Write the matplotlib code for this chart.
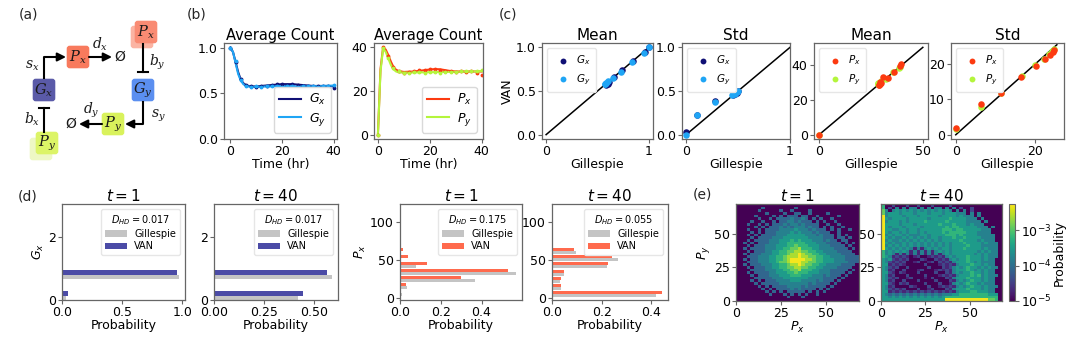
import numpy as np
import matplotlib
matplotlib.use('Agg')
import matplotlib.pyplot as plt
from matplotlib.colors import LogNorm
from matplotlib.patches import FancyBboxPatch

# ---------------- data ----------------
# (b) average counts
t_van = [0, 1, 2, 3, 4, 5, 6, 7, 8, 10, 12, 14, 16, 18, 20, 22, 24, 26, 28, 30, 32, 34, 36, 38, 40]
gx_van = [1.0, 0.95, 0.84, 0.73, 0.65, 0.61, 0.59, 0.58, 0.575, 0.575, 0.58, 0.585, 0.59, 0.595, 0.6, 0.6,
          0.6, 0.595, 0.59, 0.585, 0.58, 0.58, 0.58, 0.58, 0.575]
gy_van = [1.0, 0.95, 0.83, 0.71, 0.64, 0.6, 0.58, 0.575, 0.57, 0.57, 0.572, 0.575, 0.575, 0.578, 0.58, 0.58,
          0.578, 0.575, 0.575, 0.575, 0.578, 0.58, 0.58, 0.582, 0.585]
px_van = [0, 30, 40, 39, 36.5, 33.5, 31, 29.8, 29.2, 28.8, 28.9, 29, 29.3, 29.6, 29.9, 30.1, 30, 29.6, 29.2,
          29, 29, 29, 29, 29, 29]
py_van = [0, 29, 39.5, 38, 35, 32, 30, 29, 28.6, 28.5, 28.5, 28.6, 28.6, 28.6, 28.7, 28.7, 28.8, 28.8, 28.8,
          28.8, 28.9, 28.9, 29, 29, 29.2]
t_gil = [0, 2, 4, 6, 8, 10, 12, 14, 16, 18, 20, 22, 24, 26, 28, 30, 32, 34, 36, 38, 40]
gx_gil = [1.0, 0.84, 0.66, 0.59, 0.575, 0.57, 0.58, 0.585, 0.59, 0.6, 0.6, 0.59, 0.6, 0.59, 0.58, 0.585,
          0.58, 0.575, 0.58, 0.58, 0.56]
gy_gil = [1.0, 0.85, 0.65, 0.585, 0.57, 0.575, 0.57, 0.58, 0.575, 0.58, 0.57, 0.575, 0.58, 0.57, 0.575,
          0.58, 0.58, 0.57, 0.58, 0.585, 0.59]
px_gil = [0, 40, 36, 31, 29, 28.5, 28.8, 29, 29.5, 29.8, 30, 30.2, 29.6, 29, 29.2, 28.8, 29, 28.6, 29, 28.5, 27.5]
py_gil = [0, 39.5, 35, 30.5, 29, 28.5, 28.5, 28.6, 28.8, 28.5, 28.8, 28.6, 28.5, 28.7, 28.6, 28.8, 29, 29,
          29, 29.2, 29.6]

# (c) moments: Gillespie (x) vs VAN (y)
gx_mean_gil = [1.0, 0.96, 0.85, 0.74, 0.66, 0.61, 0.59, 0.58, 0.6, 0.6]
gx_mean_van = [1.0, 0.95, 0.84, 0.74, 0.66, 0.6, 0.58, 0.57, 0.59, 0.58]
gy_mean_gil = [1.0, 0.95, 0.84, 0.73, 0.65, 0.6, 0.58, 0.57, 0.57, 0.58]
gy_mean_van = [1.0, 0.94, 0.83, 0.72, 0.65, 0.61, 0.59, 0.58, 0.58, 0.59]
gx_std_gil = [0.0, 0.1, 0.28, 0.45, 0.47, 0.49, 0.5]
gx_std_van = [0.03, 0.23, 0.38, 0.45, 0.46, 0.48, 0.5]
gy_std_gil = [0.0, 0.1, 0.28, 0.44, 0.47, 0.49, 0.5]
gy_std_van = [0.0, 0.22, 0.37, 0.45, 0.47, 0.49, 0.5]
px_mean_gil = [0, 39.5, 39, 36, 33, 31, 29.5, 29, 28.8, 29.5, 30]
px_mean_van = [0, 40.5, 39.5, 36, 32.5, 33, 30, 28.5, 28.2, 29, 29.5]
py_mean_gil = [0, 39, 38.5, 35.5, 32, 30, 29, 28.5, 28.2, 28.5, 28.5]
py_mean_van = [0, 38.5, 38, 36, 32, 30.5, 29.5, 29, 29, 29.5, 29]
px_std_gil = [0, 6.4, 11.4, 16.5, 20.2, 22.4, 23.8, 24.5, 24.9]
px_std_van = [1.8, 8.7, 11.8, 16.3, 19.6, 21.4, 22.6, 23.5, 24.0]
py_std_gil = [0, 6.4, 11.3, 16.6, 20.0, 22.2, 23.6, 24.3, 24.8]
py_std_van = [1.6, 8.0, 11.7, 16.6, 19.8, 21.5, 22.8, 23.7, 24.2]
diag_max = [1.0, 1.0, 50.0, 25.5]

# (d) marginal histograms (bin lower edges, bin widths, probabilities)
gx_edges = [0.0, 0.667]
gx_binw = 0.333
gx_gil_t1 = [0.035, 0.975]
gx_van_t1 = [0.05, 0.955]
gx_gil_t40 = [0.42, 0.59]
gx_van_t40 = [0.447, 0.565]
px_edges_t1 = [3, 12.3, 21.6, 30.9, 40.2, 49.5, 58.8, 68.1]
px_edges_t40 = [1.5, 11, 20.5, 30, 39.5, 49, 58.5, 68]
px_binw = 9.3
px_gil_t1 = [0.01, 0.035, 0.37, 0.57, 0.08, 0.003, 0.0, 0.0]
px_van_t1 = [0.005, 0.03, 0.3, 0.53, 0.133, 0.04, 0.013, 0.004]
px_gil_t40 = [0.42, 0.036, 0.034, 0.048, 0.223, 0.265, 0.096, 0.0]
px_van_t40 = [0.445, 0.035, 0.035, 0.048, 0.226, 0.242, 0.087, 0.005]
dhd_gx = ['0.017', '0.017']
dhd_px = ['0.175', '0.055']

# (e) joint distributions, rows from top (Py=70-72) to bottom (Py=0-2),
# columns Px=0..68 in bins of 2; digit d -> log10 p = -5 + 0.3 d
heat_t1 = [
    "0000000000000000000000000000000000",
    "0000000300000000300000000000000000",
    "0000003000003003000030000000000000",
    "0000000030000300330030000300000000",
    "0000030000303033303300300000300000",
    "0000003003033334334303030030000000",
    "0000300300303344343330303003000000",
    "0003003030333434434333300300300000",
    "0000030303334343444343303030030000",
    "0003003033334444544434333030300300",
    "0000303033344445454443433300300000",
    "0003030333344455555444343330303000",
    "0000303333444555555544443330330300",
    "0003033334445556565554443433033000",
    "0030303334445566666555444333303030",
    "0003033344455566766655544433330300",
    "0030333344455667786665544443333030",
    "0003033344556677887766554444333300",
    "0030333444556678898776655444433330",
    "0003334445566788898877665544443333",
    "0030334445566789999887665554443333",
    "0003334445567789998877665554444333",
    "0030333444556678898776655444433330",
    "0003033344556677887766554444333300",
    "0000333344455667786665544433333030",
    "0003033334455566766655544433330300",
    "0000303334445556665554443433303000",
    "0000033333444555555544443333030000",
    "0000303033344445554444343330300000",
    "0000030333334444444434333303000000",
    "0000003030333344443433333030000000",
    "0000000303033334343333030300000000",
    "0000000030303033333030303000000000",
    "0000000003000303030300300000000000",
    "0000000000000030003000000000000000",
    "0000000000000000000000000000000000",
]
heat_t40 = [
    "6002000200200020000200000000000000",
    "6020404044040404404040200200000000",
    "7404545454545454545404040200000000",
    "7455545554555455545554440404000000",
    "9455554555455555455554544404000000",
    "9545555455555455555655554440400000",
    "9455545455556555556555554444040000",
    "9555545554555555655565554544400000",
    "9545554555545555556566555554440400",
    "9554455455455555566656655555444000",
    "9545545455454555565666665554444000",
    "9454554544455455556665655554444400",
    "9545445454545455455565565555444400",
    "9454454545454545455555655554544400",
    "9545445454545454545455565555454440",
    "9454545454545454545455556555444440",
    "9545454541414545455455565555454440",
    "6454545414141414545455555554545440",
    "6454141414141414145455555545454440",
    "6541212101200121214545556555454440",
    "5452121200021002121454556555454400",
    "5421212001200120212145556545444400",
    "5512121000002000121214555655454400",
    "5421200200000200021245456554545440",
    "5412002000120001212145556545454400",
    "5521021000200002002145455655454400",
    "5412000200002000121214555656454440",
    "5421200120001020002145556555454400",
    "5412002000200002000214545655454400",
    "5521021200002000200145456554544400",
    "5412000021000200121214545655454440",
    "5421212000200120002145556555454400",
    "5512121212121212121214555665554400",
    "5434343434343434344455666666665550",
    "5545454545454545456666666666666660",
    "5555555555555555559999999999997760",
]

# ---------------- style ----------------
plt.rcParams['font.family'] = ['DejaVu Sans']
plt.rcParams['mathtext.fontset'] = 'dejavusans'
TICK = 9
SP = '0.4'

W, H = 1080, 337
fig = plt.figure(figsize=(W / 100, H / 100), dpi=100)


def rect(x0, y0, x1, y1):
    return [x0 / W, 1 - y1 / H, (x1 - x0) / W, (y1 - y0) / H]


def style(ax):
    for s in ax.spines.values():
        s.set_color(SP)
        s.set_linewidth(0.9)
    ax.tick_params(labelsize=TICK, length=3, width=0.8, color=SP, pad=1.5)


def flab(x, y, s):
    fig.text(x / W, 1 - y / H, s, fontsize=10, ha='center', va='center', color='0.15')


C_GX, C_GY = '#101075', '#1fa5f5'
C_PX, C_PY = '#fc3a10', '#b4f53c'
C_GXBAR = '#4b4ba6'
C_PXBAR = '#ff6a4d'
C_GRAY = '#c4c4c4'

# ---------------- (a) diagram ----------------
ax0 = fig.add_axes([0, 0, 1, 1])
ax0.set_xlim(0, W)
ax0.set_ylim(H, 0)
ax0.axis('off')


def box(cx, cy, color, label, alpha=1.0):
    p = FancyBboxPatch((cx - 9.5, cy - 9.5), 19, 19, boxstyle='round,pad=1.8,rounding_size=3',
                       fc=color, ec='none', alpha=alpha)
    ax0.add_patch(p)
    if label:
        ax0.text(cx, cy, label, ha='center', va='center', fontsize=10.5, math_fontfamily='dejavuserif',
                 color='0.1')


def mtxt(x, y, s):
    ax0.text(x, y, s, ha='center', va='center', fontsize=10, math_fontfamily='dejavuserif', color='0.1')


arrow_kw = dict(arrowstyle='-|>,head_length=0.5,head_width=0.25', color='black', lw=1.5,
                shrinkA=0, shrinkB=0)
ax0.plot([44, 44, 60], [78, 57, 57], color='black', lw=1.5)
ax0.annotate('', xy=(66, 57), xytext=(56, 57), arrowprops=arrow_kw)
ax0.annotate('', xy=(112, 57), xytext=(89, 57), arrowprops=arrow_kw)
ax0.plot([143, 143], [44, 72], color='black', lw=1.5)
ax0.plot([138, 148], [72, 72], color='black', lw=1.5)
ax0.plot([143, 143, 132], [102, 124, 124], color='black', lw=1.5)
ax0.annotate('', xy=(125, 124), xytext=(134, 124), arrowprops=arrow_kw)
ax0.annotate('', xy=(79, 124), xytext=(102, 124), arrowprops=arrow_kw)
ax0.plot([44, 44], [132, 108], color='black', lw=1.5)
ax0.plot([39, 49], [108, 108], color='black', lw=1.5)

box(78, 57, '#f87a5d', r'$P_x$')
box(142, 37, '#fbb4a3', None)
box(146, 32, '#f98b73', r'$P_x$')
box(44, 90, '#5a5aa8', r'$G_x$')
box(143, 90, '#5b8ff0', r'$G_y$')
box(113, 124, '#d9f25c', r'$P_y$')
box(41, 149, '#eef8c4', None)
box(47, 143, '#dcf467', r'$P_y$')
mtxt(32, 66, r'$s_x$')
mtxt(100, 44, r'$d_x$')
mtxt(120, 57, 'Ø')
mtxt(157, 62, r'$b_y$')
mtxt(158, 116, r'$s_y$')
mtxt(91, 110, r'$d_y$')
mtxt(71, 124, 'Ø')
mtxt(32, 119, r'$b_x$')

flab(28, 15, '(a)')
flab(197, 15, '(b)')
flab(508, 15, '(c)')
flab(28, 196, '(d)')
flab(702, 195, '(e)')

# ---------------- (b) ----------------
axb1 = fig.add_axes(rect(224, 43, 337, 139))
axb1.plot(t_van, gx_van, color=C_GX, lw=1.5, label=r'$G_x$')
axb1.plot(t_van, gy_van, color=C_GY, lw=1.5, label=r'$G_y$')
axb1.plot(t_gil, gx_gil, '.', color=C_GX, ms=3.5)
axb1.plot(t_gil, gy_gil, '.', color=C_GY, ms=3.5)
axb1.set_xlim(-2.5, 41.3)
axb1.set_ylim(0, 1.05)
axb1.set_xticks([0, 20, 40])
axb1.set_yticks([0.0, 0.5, 1.0])
axb1.set_title('Average Count', fontsize=10.5, pad=2)
axb1.set_xlabel('Time (hr)', fontsize=TICK, labelpad=0)
axb1.legend(loc='lower right', fontsize=9, handlelength=1.8, borderpad=0.4, labelspacing=0.3,
            handletextpad=0.6, framealpha=1, edgecolor='0.85')
style(axb1)

axb2 = fig.add_axes(rect(374, 43, 483, 139))
axb2.plot(t_van, px_van, color=C_PX, lw=1.5, label=r'$P_x$')
axb2.plot(t_van, py_van, color=C_PY, lw=1.5, label=r'$P_y$')
axb2.plot(t_gil, px_gil, '.', color=C_PX, ms=3.5)
axb2.plot(t_gil, py_gil, '.', color=C_PY, ms=3.5)
axb2.set_xlim(-1.5, 40.5)
axb2.set_ylim(-1.8, 42)
axb2.set_xticks([0, 20, 40])
axb2.set_yticks([0, 20, 40])
axb2.set_title('Average Count', fontsize=10.5, pad=2)
axb2.set_xlabel('Time (hr)', fontsize=TICK, labelpad=0)
axb2.legend(loc='lower right', fontsize=9, handlelength=1.8, borderpad=0.4, labelspacing=0.3,
            handletextpad=0.6, framealpha=1, edgecolor='0.85')
style(axb2)

# ---------------- (c) ----------------
c_specs = [
    (rect(542, 43, 653, 139), 'Mean', gx_mean_gil, gx_mean_van, gy_mean_gil, gy_mean_van,
     C_GX, C_GY, r'$G_x$', r'$G_y$', (-0.04, 1.04), (-0.05, 1.05), [0, 1], [0.0, 0.5, 1.0], diag_max[0]),
    (rect(682, 43, 790, 139), 'Std', gx_std_gil, gx_std_van, gy_std_gil, gy_std_van,
     C_GX, C_GY, r'$G_x$', r'$G_y$', (-0.04, 1.0), (-0.05, 1.05), [0, 1], [0.0, 0.5, 1.0], diag_max[1]),
    (rect(814, 43, 928, 139), 'Mean', px_mean_gil, px_mean_van, py_mean_gil, py_mean_van,
     C_PX, C_PY, r'$P_x$', r'$P_y$', (-2.5, 52.5), (-2.5, 52.5), [0, 50], [0, 20, 40], diag_max[2]),
    (rect(951, 43, 1064, 139), 'Std', px_std_gil, px_std_van, py_std_gil, py_std_van,
     C_PX, C_PY, r'$P_x$', r'$P_y$', (-1.2, 27.3), (-1.2, 26), [0, 20], [0, 10, 20], diag_max[3]),
]
for i, (r, title, xg, xv, yg, yv, c1, c2, l1, l2, xl, yl, xt, yt, dm) in enumerate(c_specs):
    ax = fig.add_axes(r)
    ax.plot([0, dm], [0, dm], color='black', lw=1.1, zorder=1)
    if i < 2:
        ax.scatter(xg, xv, s=22, color=c1, label=l1, zorder=2, linewidths=0)
        ax.scatter(yg, yv, s=22, color=c2, label=l2, zorder=3, linewidths=0)
    else:
        ax.scatter(xg, xv, s=22, color=c1, label=l1, zorder=3, linewidths=0)
        ax.scatter(yg, yv, s=22, color=c2, label=l2, zorder=2, linewidths=0)
    ax.set_xlim(*xl)
    ax.set_ylim(*yl)
    ax.set_xticks(xt)
    ax.set_yticks(yt)
    ax.set_title(title, fontsize=11, pad=2)
    ax.set_xlabel('Gillespie', fontsize=TICK, labelpad=0)
    if i == 0:
        ax.set_ylabel('VAN', fontsize=TICK, labelpad=1)
    ax.legend(loc='upper left', fontsize=7.5, handletextpad=0.3, borderpad=0.5, labelspacing=0.5,
              markerscale=0.9, framealpha=1, edgecolor='0.9')
    style(ax)

# ---------------- (d) ----------------
d_specs = [
    (rect(62, 204, 185, 300), gx_edges, gx_binw, gx_gil_t1, gx_van_t1, C_GXBAR, dhd_gx[0], r'$t=1$',
     [0, 2], (0, 3.04), [0.0, 0.5, 1.0], ['0.0', '0.5', '1.0'], r'$G_x$'),
    (rect(214, 204, 338, 300), gx_edges, gx_binw, gx_gil_t40, gx_van_t40, C_GXBAR, dhd_gx[1], r'$t=40$',
     [0, 2], (0, 3.04), [0.0, 0.25, 0.5], ['0.00', '0.25', '0.50'], None),
    (rect(400, 204, 522, 300), px_edges_t1, px_binw, px_gil_t1, px_van_t1, C_PXBAR, dhd_px[0], r'$t=1$',
     [0, 50, 100], (-2, 124), [0.0, 0.2, 0.4], ['0.0', '0.2', '0.4'], r'$P_x$'),
    (rect(552, 204, 668, 300), px_edges_t40, px_binw, px_gil_t40, px_van_t40, C_PXBAR, dhd_px[1], r'$t=40$',
     [0, 50, 100], (-2, 124), [0.0, 0.2, 0.4], ['0.0', '0.2', '0.4'], None),
]
for r, edges, bw, gil, van, cvan, dhd, title, yt, yl, xt, xtl, ylab in d_specs:
    ax = fig.add_axes(r)
    e = np.asarray(edges, dtype=float)
    h = 0.42 * bw
    ax.barh(e, gil, height=h, align='edge', color=C_GRAY, label='Gillespie')
    ax.barh(e + h, van, height=h, align='edge', color=cvan, label='VAN')
    ax.set_xlim(0, max(max(gil), max(van)) * 1.05)
    ax.set_ylim(*yl)
    ax.set_yticks(yt)
    ax.set_xticks(xt)
    ax.set_xticklabels(xtl)
    ax.set_title(title, fontsize=11, pad=2)
    ax.set_xlabel('Probability', fontsize=TICK, labelpad=0)
    if ylab:
        ax.set_ylabel(ylab, fontsize=TICK, labelpad=1)
    ax.legend(loc='upper right', title=r'$D_{HD}=' + dhd + '$', fontsize=7, title_fontsize=7,
              handlelength=2.2, handleheight=0.6, borderpad=0.4, labelspacing=0.25, handletextpad=0.8,
              framealpha=1, edgecolor='0.9')
    style(ax)

# ---------------- (e) ----------------
xe = np.arange(0, 70, 2)
ye = np.arange(0, 74, 2)
norm = LogNorm(vmin=1e-5, vmax=10 ** -2.25)
mesh = None
for k, (r, rows, title) in enumerate([(rect(736, 204, 859, 301), heat_t1, r'$t=1$'),
                                      (rect(881, 204, 1002, 301), heat_t40, r'$t=40$')]):
    ax = fig.add_axes(r)
    grid = np.array([[int(c) for c in row] for row in rows[::-1]], dtype=float)
    P = 10 ** (-5 + 0.3 * grid)
    mesh = ax.pcolormesh(xe, ye, P, cmap='viridis', norm=norm, shading='flat')
    ax.set_xlim(0, 68)
    ax.set_ylim(0, 72)
    ax.set_xticks([0, 25, 50])
    ax.set_yticks([0, 25, 50])
    ax.set_title(title, fontsize=11, pad=2)
    ax.set_xlabel(r'$P_x$', fontsize=TICK, labelpad=0)
    if k == 0:
        ax.set_ylabel(r'$P_y$', fontsize=TICK, labelpad=1)
    style(ax)

cax = fig.add_axes(rect(1009, 204, 1015, 301))
cb = fig.colorbar(mesh, cax=cax)
cb.set_ticks([1e-5, 1e-4, 1e-3])
cb.set_label('Probability', fontsize=TICK, labelpad=1)
cb.ax.tick_params(labelsize=TICK, length=3, width=0.8, color=SP, pad=1.5)
cb.outline.set_edgecolor(SP)
cb.ax.minorticks_off()

fig.savefig('out.png', dpi=100)
